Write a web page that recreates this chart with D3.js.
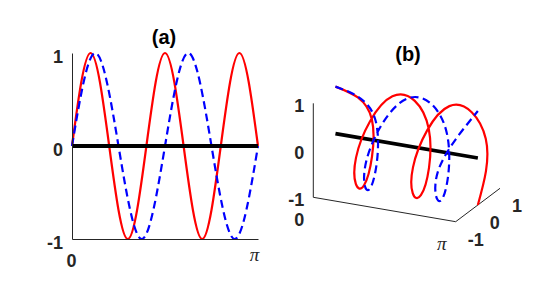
<!DOCTYPE html>
<html>
<head>
<meta charset="utf-8">
<script src="https://cdn.jsdelivr.net/npm/d3@7/dist/d3.min.js"></script>
<style>
  html, body { margin: 0; padding: 0; background: #fff; }
  svg { display: block; }
  .lbl { font-family: "Liberation Sans", Arial, sans-serif; font-weight: bold; font-size: 18px; fill: #262626; }
  .ttl { font-family: "Liberation Sans", Arial, sans-serif; font-weight: bold; font-size: 20px; fill: #000; }
  .pi { font-family: "Liberation Serif", "Times New Roman", serif; font-style: italic; font-weight: normal; font-size: 19px; fill: #262626; }
</style>
</head>
<body>
<svg id="chart" width="553" height="303"></svg>
<script>
// ---- data (x in units of pi; values read at quarter-turn key points) ----
const redX  = [0, 0.1, 0.2, 0.3, 0.4, 0.5, 0.6, 0.7, 0.8, 0.9, 1.0];
const redY  = [0, 1, 0, -1, 0, 1, 0, -1, 0, 1, 0];
const redZ  = [1, 0, -1, 0, 1, 0, -1, 0, 1, 0, -1];
const blueX = [0, 0.125, 0.25, 0.375, 0.5, 0.625, 0.75, 0.875, 1.0];
const blueY = [0, 1, 0, -1, 0, 1, 0, -1, 0];
const blueZ = [1, 0, -1, 0, 1, 0, -1, 0, 1];
const axisX = [0, 1];
const axisY = [0, 0];
const axisZ = [0, 0];
const yTicks = [-1, 0, 1];
const yTickLabels = ["-1", "0", "1"];
const xTicks = [0, 1];
const xTickLabels = ["0", "\u03C0"];
const titles = ["(a)", "(b)"];

const svg = d3.select("#chart");
const AX = "#262626";
const yFmt = d => yTickLabels[yTicks.indexOf(d)];

// ================= Panel (a) =================
const xa = d3.scaleLinear().domain([0, 1]).range([72, 258]);
const ya = d3.scaleLinear().domain([-1, 1]).range([239, 53]);
const ga = svg.append("g");

const line2 = (xs, ys) => d3.line().curve(d3.curveNatural)
  .x((d, i) => xa(xs[i])).y((d, i) => ya(ys[i]))(xs);

ga.append("path").attr("d", line2(redX, redY))
  .attr("fill", "none").attr("stroke", "#ff0000").attr("stroke-width", 2.2);
ga.append("path").attr("d", line2(blueX, blueY))
  .attr("fill", "none").attr("stroke", "#0000ff").attr("stroke-width", 2.2)
  .attr("stroke-dasharray", "8,4.5");
ga.append("path").attr("d", d3.line().x((d, i) => xa(axisX[i])).y((d, i) => ya(axisY[i]))(axisX))
  .attr("fill", "none").attr("stroke", "#000").attr("stroke-width", 4);

// axes
const axL = ga.append("g").attr("transform", "translate(72,0)")
  .call(d3.axisLeft(ya).tickValues(yTicks).tickSize(0).tickPadding(9).tickFormat(yFmt));
axL.select(".domain").attr("stroke", AX).attr("stroke-width", 1);
axL.selectAll("text").attr("class", "lbl").attr("dy", "0.52em");
const axB = ga.append("g").attr("transform", "translate(0,239)")
  .call(d3.axisBottom(xa).tickValues(xTicks).tickSize(0).tickPadding(12).tickFormat((d, i) => xTickLabels[i]));
axB.select(".domain").attr("stroke", AX).attr("stroke-width", 1);
axB.selectAll("text").attr("class", (d, i) => i === 0 ? "lbl" : "pi")
  .attr("dx", (d, i) => i === 0 ? -1 : -4).attr("dy", (d, i) => i === 0 ? "0.9em" : "0.55em");
svg.selectAll("g[font-family]").attr("font-family", null).attr("font-size", null);

ga.append("text").attr("class", "ttl").attr("x", 164).attr("y", 44)
  .attr("text-anchor", "middle").text(titles[0]);

// ================= Panel (b) : 3D =================
const sx = d3.scaleLinear().domain([0, 1]).range([0, 1]);
const sy = d3.scaleLinear().domain([-1, 1]).range([0, 1]);
const sz = d3.scaleLinear().domain([-1, 1]).range([0, 1]);
const O  = [313.3, 197.3];
const ex = [142.4, 24.4], ey = [44.3, -33.4], ez = [0, -94];
const P = (x, y, z) => [
  O[0] + sx(x) * ex[0] + sy(y) * ey[0] + sz(z) * ez[0],
  O[1] + sx(x) * ex[1] + sy(y) * ey[1] + sz(z) * ez[1]
];
const gb = svg.append("g");
const line3 = (xs, ys, zs, curve) => d3.line().curve(curve)
  .x((d, i) => P(xs[i], ys[i], zs[i])[0]).y((d, i) => P(xs[i], ys[i], zs[i])[1])(xs);

// box axes
const axPath = (a, b) => "M" + a.join(",") + "L" + b.join(",");
gb.append("path").attr("d", axPath(P(0, -1, -1), P(0, -1, 1))).attr("stroke", AX).attr("stroke-width", 1).attr("fill", "none");
gb.append("path").attr("d", axPath(P(0, -1, -1), P(1, -1, -1))).attr("stroke", AX).attr("stroke-width", 1).attr("fill", "none");
gb.append("path").attr("d", axPath(P(1, -1, -1), P(1, 1, -1))).attr("stroke", AX).attr("stroke-width", 1).attr("fill", "none");

gb.append("path").attr("d", line3(axisX, axisY, axisZ, d3.curveLinear))
  .attr("fill", "none").attr("stroke", "#000").attr("stroke-width", 3.8);
gb.append("path").attr("d", line3(redX, redY, redZ, d3.curveNatural))
  .attr("fill", "none").attr("stroke", "#ff0000").attr("stroke-width", 2.2);
gb.append("path").attr("d", line3(blueX, blueY, blueZ, d3.curveNatural))
  .attr("fill", "none").attr("stroke", "#0000ff").attr("stroke-width", 2.2)
  .attr("stroke-dasharray", "8,4.5");

// z tick labels
gb.selectAll(".zt").data(yTicks).enter().append("text").attr("class", "lbl")
  .attr("x", d => P(0, -1, d)[0] - 9).attr("y", d => P(0, -1, d)[1] + 2)
  .attr("dy", "0.35em").attr("text-anchor", "end").text(yFmt);
// x tick labels
gb.selectAll(".xt").data(xTicks).enter().append("text")
  .attr("class", (d, i) => i === 0 ? "lbl" : "pi")
  .attr("x", d => P(d, -1, -1)[0] - 14).attr("y", d => P(d, -1, -1)[1] + 22)
  .attr("dy", "0.35em").attr("text-anchor", "middle").text((d, i) => xTickLabels[i]);
// y tick labels
gb.selectAll(".yt").data(yTicks).enter().append("text").attr("class", "lbl")
  .attr("x", d => P(1, d, -1)[0] + 12).attr("y", d => P(1, d, -1)[1] + 17.5)
  .attr("dy", "0.35em").attr("text-anchor", "start").text(yFmt);

gb.append("text").attr("class", "ttl").attr("x", 408).attr("y", 61)
  .attr("text-anchor", "middle").text(titles[1]);
</script>
</body>
</html>
